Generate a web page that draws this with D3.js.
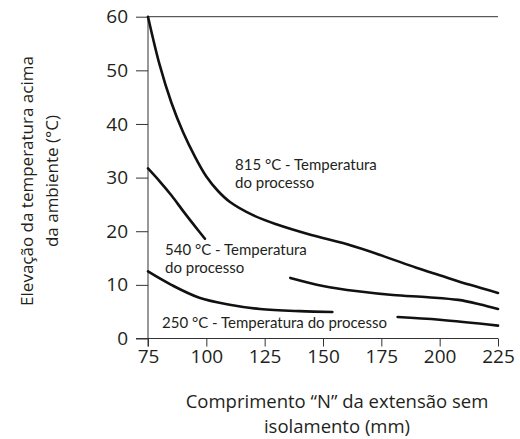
<!DOCTYPE html>
<html>
<head>
<meta charset="utf-8">
<script src="https://cdn.jsdelivr.net/npm/d3@7"></script>
<style>
  body { margin: 0; background: #fff; }
  text { font-family: "Open Sans", sans-serif; fill: #231f20; }
  text.note { font-family: Lato, "Open Sans", sans-serif; }
</style>
</head>
<body>
<svg id="chart"></svg>
<script>
const width = 520;
const height = 439;

// readings; null marks where the curve is broken for a label
const hot815 = [[75, 60], [80, 51], [85, 44], [90, 38.5], [95, 34], [100, 30.2], [105, 27.5],
    [110, 25.5], [120, 23], [130, 21.3], [145, 19.3], [160, 17.6],
    [175, 15.5], [190, 13.2], [200, 11.8], [213, 10], [225, 8.5]];
const mid540 = [[75, 31.7], [80, 29.3], [85, 26.7], [90, 23.8], [95, 21], [99.4, 18.6], null,
    [136, 11.3], [150, 9.8], [165, 8.8], [180, 8.1], [195, 7.7], [208, 7.2], [217, 6.4], [225, 5.5]];
const low250 = [[75, 12.5], [85, 10], [97, 7.6], [110, 6.3], [123, 5.5], [140, 5.1], [154, 4.95], null,
    [182, 4.0], [200, 3.5], [225, 2.4]];

const xTicks = [75, 100, 125, 150, 175, 200, 225];
const yTicks = [0, 10, 20, 30, 40, 50, 60];

const x = d3.scaleLinear([75, 225], [148, 498]);
const y = d3.scaleLinear([0, 60], [338.5, 16.7]);

const svg = d3.select("#chart").attr("width", width).attr("height", height);

// x axis, ticks pointing down
svg.append("g")
    .attr("transform", `translate(0,${y(0)})`)
    .call(d3.axisBottom(x).tickValues(xTicks).tickSize(8).tickPadding(3).tickSizeOuter(0))
    .call(g => g.select(".domain").attr("d", `M136,0H${x(225)}`))
    .call(g => g.selectAll("line").attr("stroke", "#333"))
    .call(g => g.selectAll("text").style("font-size", "19px"));

// y axis, ticks pointing left
svg.append("g")
    .attr("transform", `translate(${x(75)},0)`)
    .call(d3.axisLeft(y).tickValues(yTicks).tickSize(12).tickPadding(8).tickSizeOuter(0))
    .call(g => g.select(".domain").attr("d", `M0,${y(60)}V${y(0) + 8}`))
    .call(g => g.selectAll("line").attr("stroke", "#333"))
    .call(g => g.selectAll("text").style("font-size", "19px"));

svg.selectAll(".domain").attr("stroke", "#333");

// top frame line at 60
svg.append("line")
    .attr("x1", x(75)).attr("x2", x(225))
    .attr("y1", y(60)).attr("y2", y(60))
    .attr("stroke", "#333");

const line = d3.line()
    .defined(d => d !== null)
    .x(d => x(d[0]))
    .y(d => y(d[1]))
    .curve(d3.curveCatmullRom.alpha(0.5));

svg.append("g")
    .attr("fill", "none")
    .attr("stroke", "#111")
    .attr("stroke-width", 2.6)
    .attr("stroke-linecap", "round")
    .selectAll("path")
    .data([hot815, mid540, low250])
    .join("path")
    .attr("d", line);

// curve labels
const notes = [
    {lines: ["815 °C - Temperatura", "do processo"], at: [235, 170]},
    {lines: ["540 °C - Temperatura", "do processo"], at: [165, 255]},
    {lines: ["250 °C - Temperatura do processo"], at: [162, 328]}
];
notes.forEach(n => {
    n.lines.forEach((s, i) => svg.append("text")
        .attr("class", "note")
        .attr("x", n.at[0])
        .attr("y", n.at[1] + i * 17.5)
        .style("font-size", "15px")
        .text(s));
});

// axis titles
svg.append("text")
    .attr("text-anchor", "middle")
    .style("font-size", "18.5px")
    .selectAll("tspan")
    .data(["Comprimento “N” da extensão sem", "isolamento (mm)"])
    .join("tspan")
    .attr("x", 337)
    .attr("y", (d, i) => 408 + i * 25)
    .text(d => d);

svg.append("text")
    .attr("text-anchor", "middle")
    .attr("transform", "translate(0,181) rotate(-90)")
    .style("font-size", "17px")
    .selectAll("tspan")
    .data(["Elevação da temperatura acima", "da ambiente (°C)"])
    .join("tspan")
    .attr("x", 0)
    .attr("y", (d, i) => 33 + i * 25)
    .text(d => d);
</script>
</body>
</html>
